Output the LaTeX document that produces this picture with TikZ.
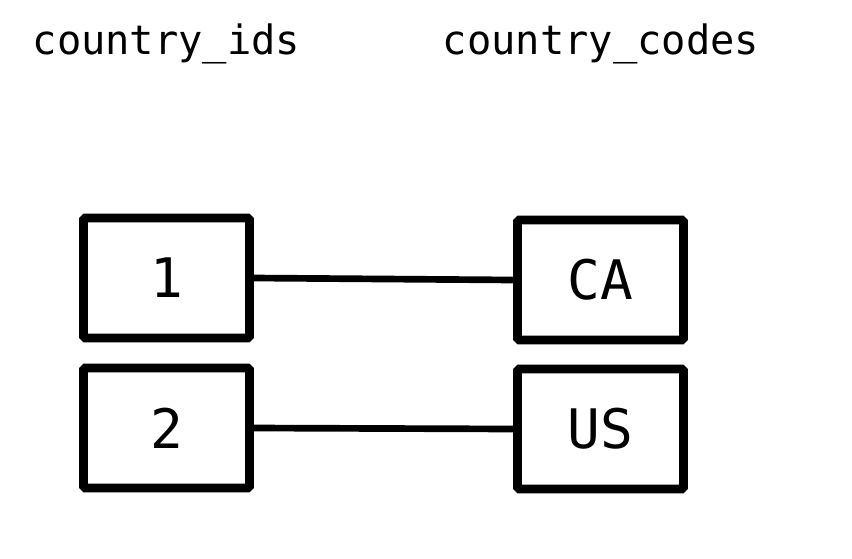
\documentclass[tikz,border=0pt]{standalone}
\usepackage{fontspec}
\setmonofont{DejaVu Sans Mono}
\usetikzlibrary{positioning}

\tikzset{
    cell/.style={draw, line width=5pt, rounded corners=1pt, minimum width=3.32cm,
        minimum height=2.4cm, inner sep=0pt, font=\ttfamily\fontsize{31}{31}\selectfont},
    title/.style={anchor=base, font=\ttfamily\fontsize{23}{23}\selectfont},
    link/.style={line width=3.8pt}
}

\begin{document}
\begin{tikzpicture}[x=0.02cm, y=-0.02cm]
    \useasboundingbox (0,0) rectangle (852,558);
    % 标题
    \node[title] (tid) at (166.5,54) {country\_ids};
    \node[title] (tcode) at (601,54) {country\_codes};
    % 左列 ids
    \node[cell] (id1) at (166.5,278) {1};
    \node[cell] (id2) at (166.5,428) {2};
    % 右列 codes
    \node[cell] (ca) at (600.5,280) {CA};
    \node[cell] (us) at (600.5,429) {US};
    % 连线
    \draw[link] (id1.east) -- (ca.west);
    \draw[link] (id2.east) -- (us.west);
\end{tikzpicture}
\end{document}
